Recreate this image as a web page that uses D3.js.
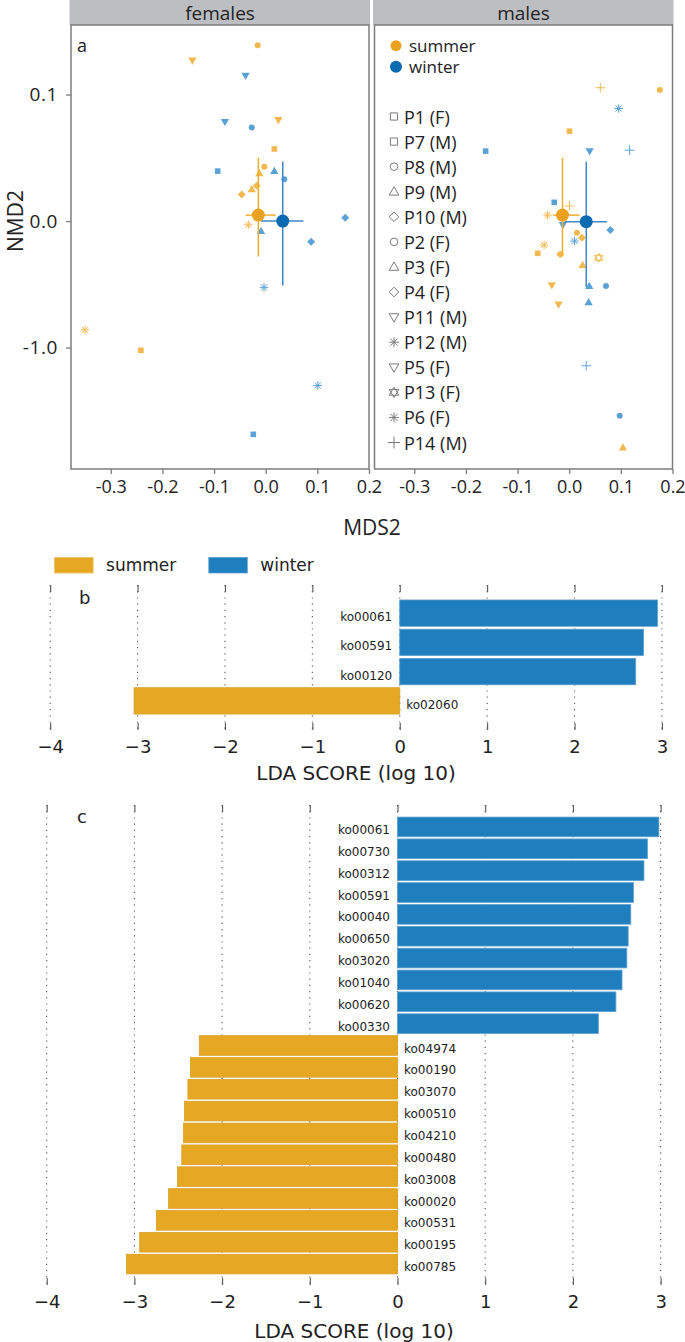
<!DOCTYPE html>
<html>
<head>
<meta charset="utf-8">
<script src="https://cdn.jsdelivr.net/npm/d3@7"></script>
<style>
  html, body { margin: 0; padding: 0; background: #fff; }
  svg { display: block; }
</style>
</head>
<body>
<svg id="chart" width="685" height="1342"></svg>
<script>
// ---------------- DATA: panel a (NMDS) ----------------
const facets = ["females", "males"];
const yTickValues = [0.1, 0.0, -0.1];
const yTickLabels = ["0.1", "0.0", "-1.0"];
const xTickValues = [-0.3, -0.2, -0.1, 0.0, 0.1, 0.2];
const xTickLabels = ["-0.3", "-0.2", "-0.1", "0.0", "0.1", "0.2"];

const femX = [-0.0155, -0.142, -0.039, -0.079, -0.027, 0.0245, 0.0167, -0.093, -0.0027, -0.0124, 0.0167, 0.036, -0.0174, -0.027, -0.0465, -0.0337, -0.009, 0.154, 0.088, -0.0033, -0.350, -0.2417, 0.1008, -0.024];
const femY = [0.139, 0.127, 0.115, 0.0785, 0.074, 0.080, 0.057, 0.0395, 0.043, 0.0377, 0.0395, 0.033, 0.028, 0.025, 0.021, -0.003, -0.008, 0.0026, -0.0164, -0.0524, -0.086, -0.1022, -0.130, -0.1686];
const femSeason = ["summer","summer","winter","winter","winter","summer","summer","winter","summer","summer","winter","winter","summer","summer","summer","summer","winter","winter","winter","winter","summer","summer","winter","winter"];
const femShape = ["circle","tridown","tridown","tridown","circle","tridown","square","square","circle","triangle","triangle","circle","diamond","triangle","diamond","asterisk","triangle","diamond","diamond","asterisk","asterisk","square","asterisk","square"];

const maleX = [0.0602, 0.1754, 0.0958, 0.0006, -0.1618, 0.0395, 0.117, -0.029, 0.0006, -0.042, -0.0123, 0.015, 0.0246, 0.0796, 0.0103, -0.0485, -0.061, -0.0175, 0.057, 0.026, -0.0336, 0.0388, 0.0712, -0.0207, 0.0375, 0.033, 0.0977, 0.104];
const maleY = [0.1054, 0.1036, 0.089, 0.0711, 0.0553, 0.0553, 0.056, 0.0148, 0.0119, 0.0047, -0.003, -0.0092, -0.0132, -0.0071, -0.0158, -0.019, -0.0255, -0.0263, -0.029, -0.0348, -0.0506, -0.0514, -0.0514, -0.0659, -0.0643, -0.1144, -0.154, -0.179];
const maleSeason = ["summer","summer","winter","summer","winter","winter","winter","winter","summer","summer","winter","summer","summer","winter","winter","summer","summer","summer","summer","summer","summer","winter","winter","summer","winter","winter","winter","summer"];
const maleShape = ["plus","circle","asterisk","square","square","tridown","plus","square","plus","asterisk","tridown","circle","diamond","diamond","asterisk","asterisk","square","diamond","star6","triangle","tridown","triangle","circle","tridown","triangle","plus","circle","triangle"];

// centroids: [summer, winter]
const centSeason = ["summer", "winter"];
const femCentX = [-0.0143, 0.033];
const femCentY = [0.0047, 0.0];
const femCentXLo = [-0.039, -0.009];
const femCentXHi = [0.019, 0.073];
const femCentYLo = [-0.028, -0.051];
const femCentYHi = [0.050, 0.047];
const maleCentX = [-0.013, 0.033];
const maleCentY = [0.0047, -0.0005];
const maleCentXLo = [-0.0317, -0.009];
const maleCentXHi = [0.020, 0.073];
const maleCentYLo = [-0.028, -0.052];
const maleCentYHi = [0.050, 0.047];

const participantLabels = ["P1 (F)","P7 (M)","P8 (M)","P9 (M)","P10 (M)","P2 (F)","P3 (F)","P4 (F)","P11 (M)","P12 (M)","P5 (F)","P13 (F)","P6 (F)","P14 (M)"];
const participantShapes = ["square","square","circle","triangle","diamond","circle","triangle","diamond","tridown","asterisk","tridown","star6","asterisk","plus"];

// ---------------- DATA: panels b and c (LDA) ----------------
const ldaTicks = [-4, -3, -2, -1, 0, 1, 2, 3];
const seasons = ["summer", "winter"];

const bCats = ["ko00061", "ko00591", "ko00120", "ko02060"];
const bScores = [2.95, 2.79, 2.70, -3.04];

const cCats = ["ko00061","ko00730","ko00312","ko00591","ko00040","ko00650","ko03020","ko01040","ko00620","ko00330",
               "ko04974","ko00190","ko03070","ko00510","ko04210","ko00480","ko03008","ko00020","ko00531","ko00195","ko00785"];
const cScores = [2.98, 2.85, 2.81, 2.69, 2.66, 2.63, 2.615, 2.56, 2.49, 2.29,
                 -2.26, -2.36, -2.39, -2.43, -2.44, -2.46, -2.51, -2.61, -2.75, -2.94, -3.09];

// ---------------- STYLE ----------------
const ptCol = { summer: "#F2B84E", winter: "#5AA2D6" };
const centCol = { summer: "#E9A11F", winter: "#0B6AB0" };
const errCol = { summer: "#F0AE2E", winter: "#3F87C8" };
const barCol = { summer: "#E6A823", winter: "#1F7EBD" };
const fontA = "'Open Sans', 'DejaVu Sans', sans-serif";
const fontB = "'DejaVu Sans', sans-serif";

const svg = d3.select("#chart");

function symPath(shape, r) {
  switch (shape) {
    case "square": return `M${-r},${-r}h${2*r}v${2*r}h${-2*r}Z`;
    case "circle": return `M${r},0A${r},${r} 0 1,1 ${-r},0A${r},${r} 0 1,1 ${r},0Z`;
    case "triangle": return `M0,${-r*1.2}L${r*1.15},${r*0.8}L${-r*1.15},${r*0.8}Z`;
    case "tridown": return `M0,${r*1.2}L${r*1.15},${-r*0.8}L${-r*1.15},${-r*0.8}Z`;
    case "diamond": return `M0,${-r*1.2}L${r*1.2},0L0,${r*1.2}L${-r*1.2},0Z`;
    case "asterisk": { const k = r*0.72; return `M${-r},0H${r}M0,${-r}V${r}M${-k},${-k}L${k},${k}M${-k},${k}L${k},${-k}`; }
    case "plus": return `M${-r},0H${r}M0,${-r}V${r}`;
    case "star6": return `M0,${-r*1.2}L${r*1.1},${r*0.65}L${-r*1.1},${r*0.65}Z M0,${r*1.2}L${r*1.1},${-r*0.65}L${-r*1.1},${-r*0.65}Z`;
  }
}
const lineShapes = new Set(["asterisk", "plus", "star6"]);
const shapeSize = { square: 2.8, circle: 3, triangle: 3.6, tridown: 3.6, diamond: 3.3, asterisk: 4.3, plus: 4.8, star6: 3.8 };

// ---------------- PANEL A ----------------
const plotTop = 25, plotBottom = 469;
const panelX = { females: [71, 369], males: [374.5, 672.5] };
const y = d3.scaleLinear().domain([-0.196, 0.155]).range([plotBottom, plotTop]);

const panels = {
  females: { X: femX, Y: femY, S: femSeason, Sh: femShape,
             cx: femCentX, cy: femCentY, xlo: femCentXLo, xhi: femCentXHi, ylo: femCentYLo, yhi: femCentYHi },
  males:   { X: maleX, Y: maleY, S: maleSeason, Sh: maleShape,
             cx: maleCentX, cy: maleCentY, xlo: maleCentXLo, xhi: maleCentXHi, ylo: maleCentYLo, yhi: maleCentYHi }
};

facets.forEach(f => {
  const [x0, x1] = panelX[f];
  const x = d3.scaleLinear().domain([-0.377, 0.2]).range([x0, x1]);
  const g = svg.append("g");
  const p = panels[f];

  // strip
  g.append("rect").attr("x", x0 - 1.5).attr("y", 0).attr("width", x1 - x0 + 2.5).attr("height", plotTop)
    .attr("fill", "#BDBEC2");
  g.append("text").attr("x", (x0 + x1) / 2).attr("y", 13).attr("text-anchor", "middle")
    .attr("dominant-baseline", "central").attr("font-family", fontA).attr("font-size", 19).attr("fill", "#222")
    .text(f);

  // points
  const idx = d3.range(p.X.length);
  g.selectAll("path.pt").data(idx).join("path")
    .attr("class", "pt")
    .attr("transform", i => `translate(${x(p.X[i])},${y(p.Y[i])})`)
    .attr("d", i => symPath(p.Sh[i], shapeSize[p.Sh[i]]))
    .attr("fill", i => lineShapes.has(p.Sh[i]) ? "none" : ptCol[p.S[i]])
    .attr("stroke", i => lineShapes.has(p.Sh[i]) ? ptCol[p.S[i]] : "none")
    .attr("stroke-width", 1);

  // centroids with error bars
  centSeason.forEach((s, i) => {
    g.append("line").attr("x1", x(p.xlo[i])).attr("x2", x(p.xhi[i])).attr("y1", y(p.cy[i])).attr("y2", y(p.cy[i]))
      .attr("stroke", errCol[s]).attr("stroke-width", 1.5);
    g.append("line").attr("x1", x(p.cx[i])).attr("x2", x(p.cx[i])).attr("y1", y(p.ylo[i])).attr("y2", y(p.yhi[i]))
      .attr("stroke", errCol[s]).attr("stroke-width", 1.5);
  });
  centSeason.forEach((s, i) => {
    g.append("circle").attr("cx", x(p.cx[i])).attr("cy", y(p.cy[i])).attr("r", 6.5).attr("fill", centCol[s]);
  });

  // frame
  g.append("rect").attr("x", x0).attr("y", plotTop).attr("width", x1 - x0).attr("height", plotBottom - plotTop)
    .attr("fill", "none").attr("stroke", "#7c7c7c").attr("stroke-width", 1.5);

  // x axis
  const xa = g.append("g").attr("transform", `translate(0,${plotBottom})`)
    .call(d3.axisBottom(x).tickValues(xTickValues).tickSize(5).tickPadding(6)
      .tickFormat((d, i) => xTickLabels[i]));
  xa.select(".domain").remove();
  xa.selectAll(".tick line").attr("stroke", "#7c7c7c").attr("stroke-width", 1.3);
  xa.selectAll("text").attr("font-family", fontA).attr("font-size", 18).attr("fill", "#222");

  if (f === "females") {
    const ya = g.append("g").attr("transform", `translate(${x0},0)`)
      .call(d3.axisLeft(y).tickValues(yTickValues).tickSize(5).tickPadding(8)
        .tickFormat((d, i) => yTickLabels[i]));
    ya.select(".domain").remove();
    ya.selectAll(".tick line").attr("stroke", "#7c7c7c").attr("stroke-width", 1.3);
    ya.selectAll("text").attr("font-family", fontA).attr("font-size", 19).attr("fill", "#222").attr("letter-spacing", 0.6);
    g.append("text").attr("x", 77).attr("y", 45).attr("dominant-baseline", "central")
      .attr("font-family", fontA).attr("font-size", 18).attr("fill", "#222").text("a");
  } else {
    // season legend
    const ls = d3.scalePoint().domain(seasons).range([45.7, 66.7]);
    seasons.forEach(s => {
      g.append("circle").attr("cx", 396).attr("cy", ls(s)).attr("r", s === "summer" ? 5.5 : 6).attr("fill", centCol[s]);
      g.append("text").attr("x", 409).attr("y", ls(s)).attr("dominant-baseline", "central")
        .attr("font-family", fontA).attr("font-size", 17).attr("fill", "#222").text(s);
    });
    // participant legend
    const lp = d3.scalePoint().domain(participantLabels).range([116.5, 442.5]);
    participantLabels.forEach((lab, i) => {
      const sh = participantShapes[i];
      const r = { square: 3.6, circle: 3.8, triangle: 4.2, tridown: 4.2, diamond: 4.0, asterisk: 5, plus: 6, star6: 4.4 }[sh];
      g.append("path").attr("transform", `translate(394,${lp(lab)})`).attr("d", symPath(sh, r))
        .attr("fill", "none").attr("stroke", "#7a7a7a").attr("stroke-width", 1);
      g.append("text").attr("x", 404).attr("y", lp(lab)).attr("dominant-baseline", "central")
        .attr("font-family", fontA).attr("font-size", 18).attr("fill", "#222").text(lab);
    });
  }
});

// axis titles panel a
svg.append("text").attr("transform", "translate(15,221) rotate(-90)").attr("text-anchor", "middle")
  .attr("dominant-baseline", "central").attr("font-family", fontA).attr("font-size", 21).attr("fill", "#222").text("NMD2");
svg.append("text").attr("x", 372).attr("y", 527).attr("text-anchor", "middle")
  .attr("dominant-baseline", "central").attr("font-family", fontA).attr("font-size", 21).attr("fill", "#222").text("MDS2");

// ---------------- PANELS B & C ----------------
function ldaPanel(cats, scores, opt) {
  const g = svg.append("g");
  const x = d3.scaleLinear().domain([-4, 3]).range(opt.xr);
  const yb = d3.scaleBand().domain(cats).range(opt.br).paddingInner(0.1).paddingOuter(0.05);

  // dotted grid
  g.selectAll("line.grid").data(ldaTicks).join("line").attr("class", "grid")
    .attr("x1", d => x(d)).attr("x2", d => x(d)).attr("y1", opt.top).attr("y2", opt.bottom)
    .attr("stroke", "#555").attr("stroke-width", 1.1).attr("stroke-dasharray", "1.2,5");

  // bars
  g.selectAll("rect.bar").data(cats).join("rect").attr("class", "bar")
    .attr("x", (d, i) => x(Math.min(0, scores[i])))
    .attr("width", (d, i) => Math.abs(x(scores[i]) - x(0)))
    .attr("y", d => yb(d)).attr("height", yb.bandwidth())
    .attr("fill", (d, i) => scores[i] >= 0 ? barCol.winter : barCol.summer)
    .attr("stroke", (d, i) => scores[i] >= 0 ? "#5d9fd0" : "#d9a02a").attr("stroke-width", 0.8);

  // labels
  g.selectAll("text.lab").data(cats).join("text").attr("class", "lab")
    .attr("x", (d, i) => scores[i] >= 0 ? x(0) - 7.5 : x(0) + 6.5)
    .attr("y", d => yb(d) + yb.bandwidth() / 2 + opt.dy)
    .attr("text-anchor", (d, i) => scores[i] >= 0 ? "end" : "start")
    .attr("dominant-baseline", "central")
    .attr("font-family", fontB).attr("font-size", 12).attr("fill", "#222").text(d => d);

  // top ticks
  const ta = g.append("g").attr("transform", `translate(0,${opt.top})`)
    .call(d3.axisTop(x).tickValues(ldaTicks).tickSize(-7).tickFormat(""));
  ta.select(".domain").remove();
  ta.selectAll(".tick line").attr("stroke", "#555").attr("stroke-width", 1.1);

  // bottom axis
  const ba = g.append("g").attr("transform", `translate(0,${opt.bottom})`)
    .call(d3.axisBottom(x).tickValues(ldaTicks).tickSize(-7).tickPadding(10).tickFormat(d3.format("d")));
  ba.select(".domain").remove();
  ba.selectAll(".tick line").attr("stroke", "#555").attr("stroke-width", 1.1);
  ba.selectAll("text").attr("font-family", fontB).attr("font-size", 18).attr("fill", "#222");

  g.append("text").attr("x", opt.titleX).attr("y", opt.titleY).attr("text-anchor", "middle")
    .attr("dominant-baseline", "central").attr("font-family", fontB).attr("font-size", 20).attr("fill", "#222")
    .text("LDA SCORE (log 10)");

  g.append("text").attr("x", opt.letterX).attr("y", opt.letterY).attr("dominant-baseline", "central")
    .attr("font-family", fontB).attr("font-size", 18).attr("fill", "#222").text(opt.letter);
}

ldaPanel(bCats, bScores, { xr: [50.2, 661.9], br: [598.5, 715.5], top: 585, bottom: 730, dy: 4,
  titleX: 356, titleY: 773, letter: "b", letterX: 79, letterY: 597 });
ldaPanel(cCats, cScores, { xr: [46.7, 660.6], br: [816, 1275], top: 805, bottom: 1285, dy: 3,
  titleX: 354, titleY: 1331, letter: "c", letterX: 77, letterY: 816 });

// legend for b
const lgx = d3.scalePoint().domain(seasons).range([54.6, 208.8]);
seasons.forEach(s => {
  svg.append("rect").attr("x", lgx(s)).attr("y", 557.5).attr("width", 38.5).attr("height", 15.5)
    .attr("fill", barCol[s]).attr("stroke", s === "summer" ? "#edc060" : "#5d9fd0").attr("stroke-width", 0.8);
  svg.append("text").attr("x", lgx(s) + 51.5).attr("y", 565).attr("dominant-baseline", "central")
    .attr("font-family", fontB).attr("font-size", 17).attr("fill", "#222").text(s);
});
</script>
</body>
</html>
